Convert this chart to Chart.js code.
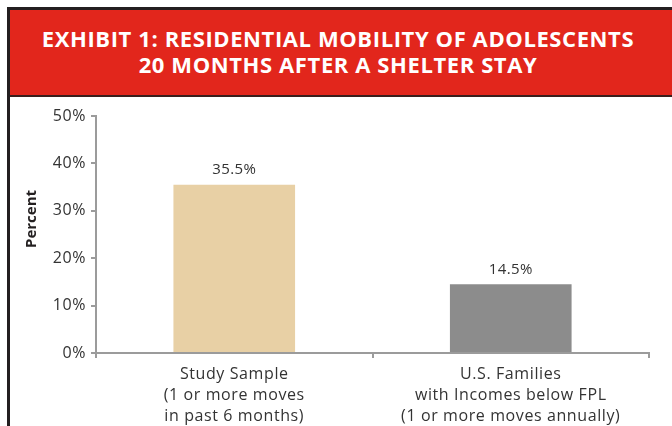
<!DOCTYPE html>
<html>
<head>
<meta charset="utf-8">
<script src="https://cdn.jsdelivr.net/npm/chart.js@4"></script>
<style>
  html, body { margin: 0; padding: 0; background: #fff; }
  body { width: 672px; height: 426px; position: relative; overflow: hidden; }
  #frame {
    position: absolute; left: 7px; top: 7px; width: 720px; height: 480px;
    border-left: 3px solid #231f20; border-top: 3px solid #231f20;
  }
  #header {
    position: absolute; left: 10px; top: 10px; width: 720px; height: 85px;
    background: #e2261c; border-bottom: 2px solid #3b1e1c;
  }
  .title-line {
    position: absolute; left: 0; width: 676px; text-align: center;
    color: #fff; font-family: "Open Sans", sans-serif; font-weight: 700;
    font-size: 22px; letter-spacing: 0.6px; line-height: 26px; white-space: nowrap;
  }
  #chart-wrap { position: absolute; left: 10px; top: 97px; width: 662px; height: 329px; }
</style>
</head>
<body>
<div id="frame"></div>
<div id="header"></div>
<div class="title-line" style="top:25px;">EXHIBIT 1: RESIDENTIAL MOBILITY OF ADOLESCENTS</div>
<div class="title-line" style="top:51px;">20 MONTHS AFTER A SHELTER STAY</div>
<div id="chart-wrap"><canvas id="chart" width="662" height="329"></canvas></div>
<script>
// Chart data
const categories = [
  ["Study Sample", "(1 or more moves", "in past 6 months)"],
  ["U.S. Families", "with Incomes below FPL", "(1 or more moves annually)"]
];
const percentValues = [35.5, 14.5];
const barColors = ["#e8d0a5", "#8c8c8c"];
const yAxisTitle = "Percent";

const axisGrey = "#9b9b9b";
const textColor = "#333333";

// the original font is wider, so space the letters out a bit
const spacing = {
  id: "spacing",
  beforeDraw(chart) {
    chart.ctx.letterSpacing = "0.6px";
  }
};

// value labels above bars
const barLabels = {
  id: "barLabels",
  afterDatasetsDraw(chart) {
    const ctx = chart.ctx;
    const meta = chart.getDatasetMeta(0);
    ctx.save();
    ctx.letterSpacing = "0.4px";
    ctx.font = "15px 'Open Sans', sans-serif";
    ctx.fillStyle = textColor;
    ctx.textAlign = "center";
    ctx.textBaseline = "bottom";
    meta.data.forEach((bar, i) => {
      ctx.fillText(percentValues[i].toFixed(1) + "%", bar.x, bar.y - 7);
    });
    ctx.restore();
  }
};

// rotated y title, sits a little above the middle of the axis
const yTitle = {
  id: "yTitle",
  afterDraw(chart) {
    const ctx = chart.ctx;
    ctx.save();
    ctx.letterSpacing = "0px";
    ctx.translate(22, 122);
    ctx.rotate(-Math.PI / 2);
    ctx.font = "bold 15px 'Open Sans', sans-serif";
    ctx.fillStyle = "#231f20";
    ctx.textAlign = "center";
    ctx.textBaseline = "middle";
    ctx.fillText(yAxisTitle, 0, 0);
    ctx.restore();
  }
};

new Chart(document.getElementById("chart").getContext("2d"), {
  type: "bar",
  data: {
    labels: categories,
    datasets: [{
      data: percentValues,
      backgroundColor: barColors,
      borderWidth: 0,
      categoryPercentage: 0.88,
      barPercentage: 0.5
    }]
  },
  options: {
    responsive: false,
    animation: false,
    layout: { padding: { left: 0, right: 23, top: 19, bottom: 0 } },
    plugins: {
      legend: { display: false },
      tooltip: { enabled: false }
    },
    scales: {
      x: {
        afterFit: s => { s.height = 73; },
        grid: {
          offset: true,
          drawOnChartArea: false,
          drawTicks: true,
          tickLength: 5,
          color: axisGrey,
          lineWidth: 2
        },
        border: { display: true, color: axisGrey, width: 2 },
        ticks: {
          padding: 6,
          color: textColor,
          font: { family: "'Open Sans', sans-serif", size: 16, lineHeight: 1.3 }
        }
      },
      y: {
        min: 0,
        max: 50,
        afterFit: s => { s.width = 86; },
        grid: {
          drawOnChartArea: false,
          drawTicks: true,
          tickLength: 5,
          color: axisGrey,
          lineWidth: 2
        },
        border: { display: true, color: axisGrey, width: 2 },
        ticks: {
          stepSize: 10,
          padding: 5,
          color: textColor,
          font: { family: "'Open Sans', sans-serif", size: 16 },
          callback: v => v + "%"
        }
      }
    }
  },
  plugins: [spacing, barLabels, yTitle]
});
</script>
</body>
</html>
